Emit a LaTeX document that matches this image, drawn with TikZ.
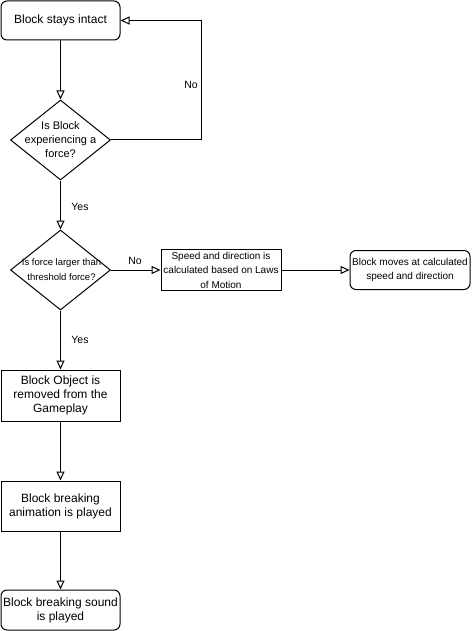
\documentclass[tikz,border=0pt]{standalone}
\usepackage{fontspec}
\setmainfont{Liberation Sans}
\usetikzlibrary{shapes.geometric,arrows.meta}
\begin{document}
\begin{tikzpicture}[x=1pt,y=-1pt,
 box/.style={draw, line width=1pt, minimum width=119pt, inner sep=0pt, align=center, font=\fontsize{12}{14}\selectfont},
 rbox/.style={box, rounded corners=6pt},
 small/.style={font=\fontsize{10}{14.5}\selectfont},
 dia/.style={draw, diamond, line width=1pt, minimum width=100pt, minimum height=80pt, inner sep=0pt},
 diatext/.style={align=center, inner sep=0pt},
 arr/.style={-{Triangle[open,length=9pt,width=8pt]}, line width=1pt},
 lab/.style={font=\fontsize{10.5}{12}\selectfont, inner sep=1pt}
]
\useasboundingbox (0,0) rectangle (471,631);

\node[rbox, minimum height=39pt] (b1) at (60.5,20.5) {Block stays intact};
\node[dia] (d1) at (60.5,140) {};
\node[diatext, font=\fontsize{11}{14}\selectfont] (t1) at (60.5,139.5) {Is Block\\experiencing a\\force?};
\node[dia] (d2) at (60.5,270) {};
\node[diatext, font=\fontsize{9.5}{15}\selectfont] (t2) at (61.5,269.5) {Is force larger than\\threshold force?};
\node[box, small, minimum width=120pt, minimum height=41pt] (sp) at (221,270) {Speed and direction is\\calculated based on Laws\\of Motion};
\node[rbox, small, minimum width=120pt, minimum height=39pt] (mv) at (410,270) {Block moves at calculated\\speed and direction};
\node[box, minimum height=51pt] (b2) at (60.5,395.5) {Block Object is\\removed from the\\Gameplay};
\node[box, minimum height=50pt] (b3) at (60.5,506) {Block breaking\\animation is played};
\node[rbox, minimum height=40pt] (b4) at (60.5,610) {Block breaking sound\\is played};

\draw[arr] (b1.south) -- (d1.north);
\coordinate (c1) at (201.5,140);
\draw[arr] (d1.east) -- (c1) |- (b1.east);
\node[lab] (no1) at (191,85) {No};
\draw[arr] (d1.south) -- (d2.north);
\node[lab] (yes1) at (80,207) {Yes};
\draw[arr] (d2.east) -- (sp.west);
\node[lab] (no2) at (135,261) {No};
\draw[arr] (sp.east) -- (mv.west);
\draw[arr] (d2.south) -- (b2.north);
\node[lab] (yes2) at (80,340) {Yes};
\draw[arr] (b2.south) -- (b3.north);
\draw[arr] (b3.south) -- (b4.north);
\end{tikzpicture}
\end{document}
